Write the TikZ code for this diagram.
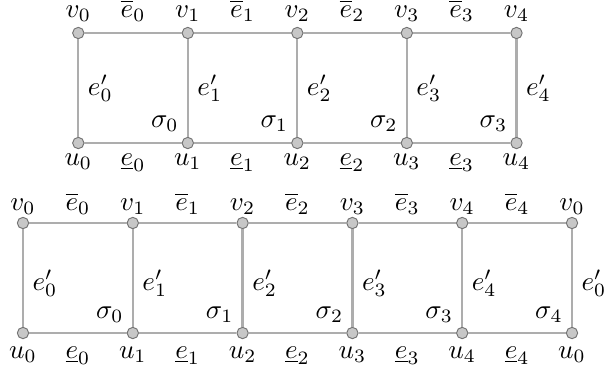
\documentclass[tikz,border=0pt]{standalone}
\begin{document}
\begin{tikzpicture}[x=0.37pt,y=-0.37pt,
  edge/.style={draw=black!32, line width=0.85pt},
  vdot/.style={circle, draw=black!55, fill=black!22, line width=0.35pt, inner sep=0pt, minimum size=4.2pt},
  lbl/.style={anchor=base, inner sep=0pt}]
\useasboundingbox (0,0) rectangle (604,371);
% ---------- top diagram ----------
\foreach \i/\x in {0/78.3,1/187.8,2/297.3,3/406.8,4/516.5}{
  \node[vdot] (tv\i) at (\x,33) {};
  \node[vdot] (tu\i) at (\x,143) {};
  \node[lbl] (tvl\i) at (\x,17) {$v_{\i}$};
  \node[lbl] (tul\i) at (\x,165) {$u_{\i}$};
  \node[lbl] (tel\i) at (\x+22,95) {$e'_{\i}$};
}
\foreach \i/\j in {0/1,1/2,2/3,3/4}{
  \draw[edge] (tv\i) -- (tv\j);
  \draw[edge] (tu\i) -- (tu\j);
  \path (tv\i) -- (tv\j) coordinate[midway] (tmv\i);
  \path (tu\i) -- (tu\j) coordinate[midway] (tmu\i);
  \node[lbl] (tob\i) at (tmv\i |- 0,17) {$\overline{e}_{\i}$};
  \node[lbl] (tub\i) at (tmu\i |- 0,165) {$\underline{e}_{\i}$};
  \node[lbl] (tsg\i) at ([xshift=-23*0.37pt]tv\j |- 0,127) {$\sigma_{\i}$};
}
\foreach \i in {0,...,4}{ \draw[edge] (tv\i) -- (tu\i); }
% ---------- bottom diagram ----------
\foreach \i/\x/\k in {0/23/0,1/132.8/1,2/242.6/2,3/352.4/3,4/462.2/4,5/572/0}{
  \node[vdot] (bv\i) at (\x,223) {};
  \node[vdot] (bu\i) at (\x,333) {};
  \node[lbl] (bvl\i) at (\x,210) {$v_{\k}$};
  \node[lbl] (bul\i) at (\x,358) {$u_{\k}$};
  \node[lbl] (bel\i) at (\x+22,290) {$e'_{\k}$};
}
\foreach \i/\j in {0/1,1/2,2/3,3/4,4/5}{
  \draw[edge] (bv\i) -- (bv\j);
  \draw[edge] (bu\i) -- (bu\j);
  \path (bv\i) -- (bv\j) coordinate[midway] (bmv\i);
  \path (bu\i) -- (bu\j) coordinate[midway] (bmu\i);
  \node[lbl] (bob\i) at (bmv\i |- 0,210) {$\overline{e}_{\i}$};
  \node[lbl] (bub\i) at (bmu\i |- 0,358) {$\underline{e}_{\i}$};
  \node[lbl] (bsg\i) at ([xshift=-23*0.37pt]bv\j |- 0,318) {$\sigma_{\i}$};
}
\foreach \i in {0,...,5}{ \draw[edge] (bv\i) -- (bu\i); }
\end{tikzpicture}
\end{document}
